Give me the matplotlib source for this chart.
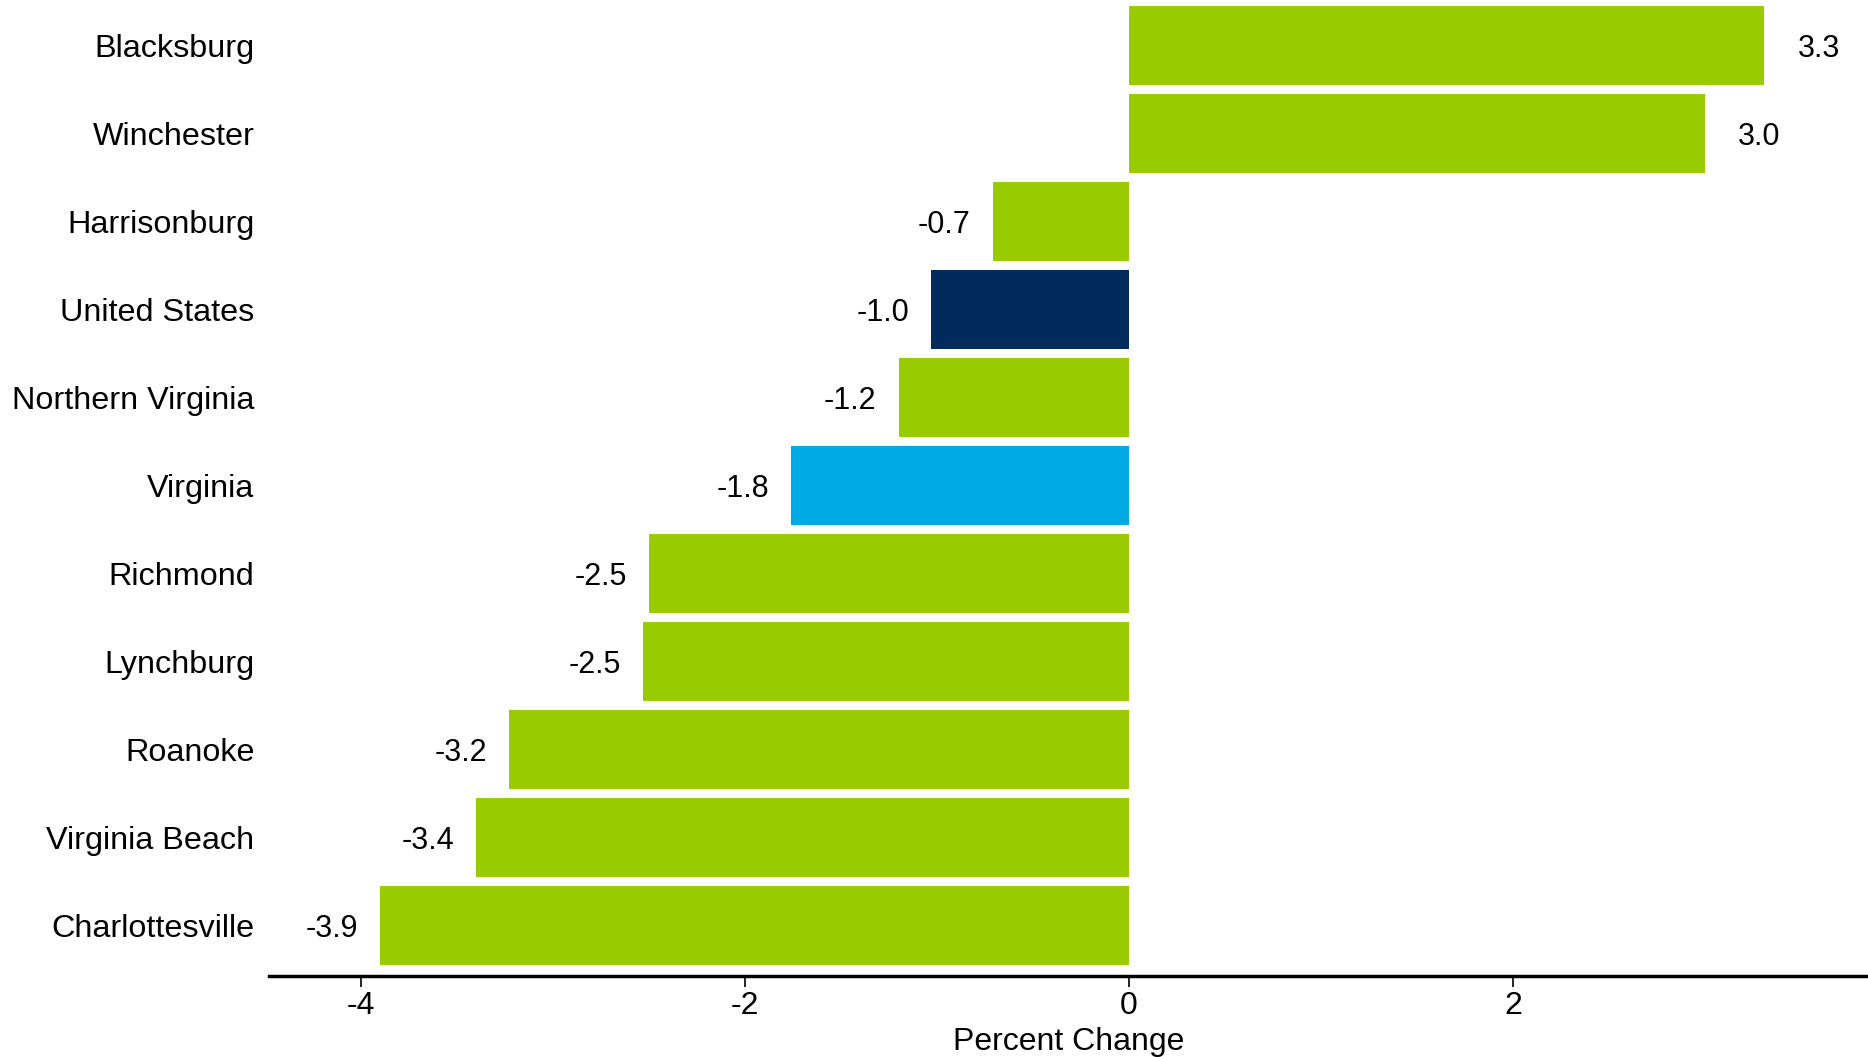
import matplotlib
matplotlib.use("Agg")
import matplotlib.pyplot as plt

categories = ["Blacksburg", "Winchester", "Harrisonburg", "United States",
              "Northern Virginia", "Virginia", "Richmond", "Lynchburg",
              "Roanoke", "Virginia Beach", "Charlottesville"]
values = [3.31, 3.0, -0.71, -1.03, -1.2, -1.76, -2.5, -2.53, -3.23, -3.4, -3.9]
groups = ["metro", "metro", "metro", "us", "metro", "state", "metro", "metro",
          "metro", "metro", "metro"]
xticks = [-4, -2, 0, 2]

palette = {"metro": "#99CC00", "us": "#002B5C", "state": "#00AAE4"}

plt.rcParams["font.family"] = ["Liberation Sans", "DejaVu Sans"]

fig = plt.figure(figsize=(18.68, 10.57), dpi=100)
ax = fig.add_axes([269/1868, 81/1057, 1 - 269/1868, 976/1057])

ypos = list(range(len(categories)))
colors = [palette[g] for g in groups]
ax.barh(ypos, values, height=0.9, color=colors, edgecolor="none")

for y, v in zip(ypos, values):
    if v >= 0:
        ax.annotate(f"{v:.1f}", (v, y), xytext=(24, 0), textcoords="offset points",
                    ha="left", va="center_baseline", fontsize=22)
    else:
        ax.annotate(f"{v:.1f}", (v, y), xytext=(-16, 0), textcoords="offset points",
                    ha="right", va="center_baseline", fontsize=22)

ax.set_xlim(-4.48, 3.85)
ax.set_ylim(len(categories) - 1 + 0.574, -0.517)
ax.set_yticks(ypos)
ax.set_yticklabels(categories, fontsize=23.3)
ax.set_xticks(xticks)
ax.set_xticklabels([str(t) for t in xticks], fontsize=23)
ax.tick_params(axis="y", length=0, pad=10.5)
ax.tick_params(axis="x", length=8, width=1.2, pad=3)
ax.set_xlabel("Percent Change", fontsize=23, labelpad=4)

for s in ["top", "right", "left"]:
    ax.spines[s].set_visible(False)
ax.spines["bottom"].set_linewidth(2.5)

fig.savefig("out.png", dpi=100)
